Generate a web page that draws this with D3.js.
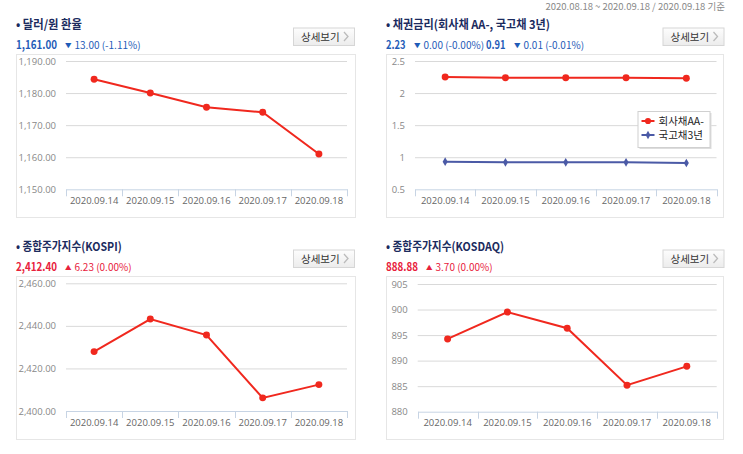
<!DOCTYPE html>
<html><head><meta charset="utf-8">
<script src="https://cdn.jsdelivr.net/npm/d3@7"></script>
<style>
html,body{margin:0;padding:0;background:#fff;}
text{font-family:"Noto Sans CJK KR","Noto Sans",sans-serif;}
</style></head>
<body><svg id="c" width="743" height="454"></svg>
<script>
const dates = ["2020.09.14","2020.09.15","2020.09.16","2020.09.17","2020.09.18"];
const usdkrw = [1184.3, 1180.0, 1175.6, 1174.0, 1161.0];
const corpAA = [2.25, 2.24, 2.24, 2.24, 2.23];
const ktb3 = [0.93, 0.92, 0.92, 0.92, 0.91];
const kospi = [2427.9, 2443.2, 2435.7, 2406.17, 2412.40];
const kosdaq = [894.25, 899.5, 896.35, 885.18, 888.88];
const usdTicks = [1150, 1160, 1170, 1180, 1190];
const bondTicks = [0.5, 1, 1.5, 2, 2.5];
const kospiTicks = [2400, 2420, 2440, 2460];
const kosdaqTicks = [880, 885, 890, 895, 900, 905];

const svg = d3.select("#c");
const NAVY = "#1b2b5e", BLUE = "#1f5cb8", RED = "#e8213c", LINE = "#f0281e", BLUE2 = "#4b5aa6";

svg.append("text").attr("x", 725).attr("y", 9.5).attr("text-anchor", "end")
  .attr("font-size", 9.5).attr("fill", "#888")
  .text("2020.08.18 ~ 2020.09.18 / 2020.09.18 기준");

function header(x, ty, title, titleW, vals, btnX, btnY) {
  svg.append("text").attr("x", x).attr("y", ty).attr("font-size", 12).attr("font-weight", "bold")
    .attr("fill", NAVY).attr("textLength", titleW).attr("lengthAdjust", "spacingAndGlyphs").text("• " + title);
  vals.forEach(v => {
    svg.append("text").attr("x", v.x).attr("y", ty + 20).attr("font-size", 11.5).attr("font-weight", "bold")
      .attr("fill", v.color).attr("textLength", v.w).attr("lengthAdjust", "spacingAndGlyphs").text(v.value);
    const t = svg.append("text").attr("x", v.x2).attr("y", ty + 19.5).attr("font-size", 10).attr("fill", v.color);
    t.append("tspan").attr("font-size", 6.5).attr("dy", -1).text(v.up ? "▲" : "▼");
    t.append("tspan").attr("dy", 1).attr("dx", 3).text(v.change);
  });
  const g = svg.append("g").attr("transform", `translate(${btnX},${btnY})`);
  const gid = "bg" + Math.round(btnX) + Math.round(btnY);
  const grad = svg.append("defs").append("linearGradient").attr("id", gid).attr("x1", 0).attr("x2", 0).attr("y1", 0).attr("y2", 1);
  grad.append("stop").attr("offset", 0).attr("stop-color", "#fdfdfd");
  grad.append("stop").attr("offset", 1).attr("stop-color", "#ececec");
  g.append("rect").attr("x", 0.5).attr("y", 0.5).attr("width", 61).attr("height", 17.5)
    .attr("fill", `url(#${gid})`).attr("stroke", "#d6d6d6");
  g.append("text").attr("x", 8).attr("y", 13).attr("font-size", 10.5).attr("fill", "#333").text("상세보기");
  g.append("path").attr("d", "M51,4.5 L55,9 L51,13.5").attr("fill", "none").attr("stroke", "#bbb").attr("stroke-width", 1.3);
}

function panel(cfg) {
  svg.append("rect").attr("x", cfg.box[0] + 0.5).attr("y", cfg.box[1] + 0.5)
    .attr("width", cfg.box[2]).attr("height", cfg.box[3]).attr("fill", "#fff").attr("stroke", "#e6e6e6");
  const x = d3.scaleBand().domain(dates).range([cfg.x0, cfg.x1]).padding(0);
  const y = d3.scaleLinear().domain(cfg.domain).range([cfg.y1, cfg.y0]);
  const W = cfg.x1 - cfg.x0;
  const ga = svg.append("g").attr("transform", `translate(${cfg.x0},0)`);
  ga.call(d3.axisLeft(y).tickValues(cfg.ticks).tickSize(-W).tickPadding(10).tickFormat(cfg.fmt));
  ga.select(".domain").remove();
  ga.selectAll(".tick line").attr("stroke", d => d === cfg.domain[0] ? "none" : "#d9d9d9");
  ga.selectAll(".tick text").attr("font-size", 9.5).attr("fill", "#888")
    .style("font-family", "'Open Sans','Noto Sans',sans-serif");
  const gb = svg.append("g").attr("transform", `translate(0,${cfg.y1})`);
  gb.call(d3.axisBottom(x).tickSize(0).tickPadding(8));
  gb.select(".domain").attr("stroke", "#c7d4e4");
  gb.selectAll(".tick text").attr("font-size", 9.5).attr("fill", "#666")
    .style("font-family", "'Open Sans','Noto Sans',sans-serif");
  const edges = dates.map(d => x(d)).concat([x.range()[1]]);
  gb.selectAll("line.edge").data(edges).enter().append("line").attr("class", "edge")
    .attr("x1", d => Math.round(d) + 0.5).attr("x2", d => Math.round(d) + 0.5)
    .attr("y1", 0).attr("y2", 7).attr("stroke", "#c7d4e4");
  cfg.series.forEach(s => {
    const line = d3.line().x((d, i) => x(dates[i]) + x.bandwidth() / 2).y(d => y(d));
    svg.append("path").datum(s.values).attr("d", line).attr("fill", "none")
      .attr("stroke", s.color).attr("stroke-width", 2);
    svg.selectAll(null).data(s.values).enter().append("path")
      .attr("transform", (d, i) => `translate(${x(dates[i]) + x.bandwidth() / 2},${y(d)})`)
      .attr("d", d3.symbol().type(s.symbol).size(s.size))
      .attr("fill", s.color);
  });
  return { x, y };
}

header(16, 29, "달러/원 환율", 66,
  [{ x: 16, w: 41, value: "1,161.00", x2: 65, change: "13.00 (-1.11%)", color: BLUE, up: false }], 293, 27.5);
panel({ box: [16, 54, 339, 163], x0: 66, x1: 347, y0: 61, y1: 189.3, domain: [1150, 1190], ticks: usdTicks,
  fmt: d3.format(",.2f"), series: [{ values: usdkrw, color: LINE, symbol: d3.symbolCircle, size: 38 }] });

header(386, 29, "채권금리(회사채 AA-, 국고채 3년)", 164,
  [{ x: 386, w: 19.5, value: "2.23", x2: 414, change: "0.00 (-0.00%)", color: BLUE, up: false },
   { x: 486, w: 19.5, value: "0.91", x2: 514, change: "0.01 (-0.01%)", color: BLUE, up: false }], 662.5, 27.5);
panel({ box: [386, 54, 337, 163], x0: 415, x1: 716.5, y0: 61, y1: 189.3, domain: [0.5, 2.5], ticks: bondTicks,
  fmt: d3.format("~g"), series: [
    { values: corpAA, color: LINE, symbol: d3.symbolCircle, size: 38 },
    { values: ktb3, color: BLUE2, symbol: d3.symbolDiamond, size: 22 }] });

const lg = svg.append("g").attr("transform", "translate(637.5,111)");
lg.append("rect").attr("x", 2).attr("y", 2).attr("width", 72).attr("height", 36).attr("fill", "#ddd");
lg.append("rect").attr("x", 0.5).attr("y", 0.5).attr("width", 72).attr("height", 36).attr("fill", "#fff").attr("stroke", "#d0d0d0");
const legendItems = [{ name: "회사채AA-", color: LINE, symbol: d3.symbolCircle, size: 30, y: 10 },
                     { name: "국고채3년", color: BLUE2, symbol: d3.symbolDiamond, size: 20, y: 24 }];
legendItems.forEach(it => {
  lg.append("line").attr("x1", 4).attr("x2", 17).attr("y1", it.y).attr("y2", it.y).attr("stroke", it.color).attr("stroke-width", 2);
  lg.append("path").attr("transform", `translate(10.5,${it.y})`).attr("d", d3.symbol().type(it.symbol).size(it.size)).attr("fill", it.color);
  lg.append("text").attr("x", 21).attr("y", it.y + 4).attr("font-size", 10.5).attr("fill", "#222").text(it.name);
});

header(16, 251, "종합주가지수(KOSPI)", 105.7,
  [{ x: 16, w: 41, value: "2,412.40", x2: 65, change: "6.23 (0.00%)", color: RED, up: true }], 293, 249.5);
panel({ box: [16, 276, 339, 163], x0: 66, x1: 347, y0: 283.3, y1: 411, domain: [2400, 2460], ticks: kospiTicks,
  fmt: d3.format(",.2f"), series: [{ values: kospi, color: LINE, symbol: d3.symbolCircle, size: 38 }] });

header(386, 251, "종합주가지수(KOSDAQ)", 118,
  [{ x: 386, w: 32, value: "888.88", x2: 426, change: "3.70 (0.00%)", color: RED, up: true }], 662.5, 249.5);
panel({ box: [386, 276, 337, 163], x0: 417.7, x1: 716.7, y0: 284, y1: 411.7, domain: [880, 905], ticks: kosdaqTicks,
  fmt: d3.format("d"), series: [{ values: kosdaq, color: LINE, symbol: d3.symbolCircle, size: 38 }] });
</script></body></html>
